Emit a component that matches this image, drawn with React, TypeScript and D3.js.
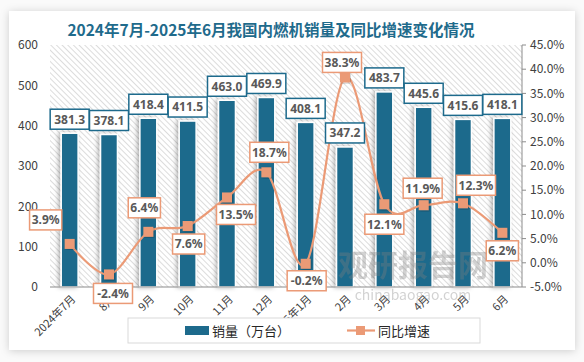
import React, { useEffect, useRef } from 'react';
import * as d3 from 'd3';

const months = ['2024年7月', '8月', '9月', '10月', '11月', '12月', '2025年1月', '2月', '3月', '4月', '5月', '6月'];
const sales = [381.3, 378.1, 418.4, 411.5, 463.0, 469.9, 408.1, 347.2, 483.7, 445.6, 415.6, 418.1];
const growth = [3.9, -2.4, 6.4, 7.6, 13.5, 18.7, -0.2, 38.3, 12.1, 11.9, 12.3, 6.2];
const leftTicks = [0, 100, 200, 300, 400, 500, 600];
const rightTicks = [-5, 0, 5, 10, 15, 20, 25, 30, 35, 40, 45];

// offsets for the growth-rate labels, relative to their markers
const growthLabelOffset: [number, number][] = [
  [-24, -24], [4, 19], [-4, -24], [1, 18], [9, 17], [3, -20],
  [1, 17], [-3, -15], [0, 20], [-1, -17], [13, -18], [0, 18],
];

const W = 584;
const H = 362;
const margin = { top: 45, right: 62, bottom: 75, left: 50 };
const barColor = '#1d6a8c';
const lineColor = '#eb9a76';

const App: React.FC = () => {
  const ref = useRef<SVGSVGElement>(null);

  useEffect(() => {
    if (!ref.current) return;
    const root = d3.select(ref.current);
    root.selectAll('*').remove();

    const width = W - margin.left - margin.right;
    const height = H - margin.top - margin.bottom;

    const defs = root.append('defs');
    const pat = defs.append('pattern')
      .attr('id', 'hatch')
      .attr('patternUnits', 'userSpaceOnUse')
      .attr('width', 4)
      .attr('height', 4)
      .attr('patternTransform', 'rotate(-45)');
    pat.append('rect').attr('width', 4).attr('height', 4).attr('fill', '#fff');
    pat.append('line')
      .attr('x1', 0).attr('y1', 0).attr('x2', 0).attr('y2', 4)
      .attr('stroke', '#d4d4d4').attr('stroke-width', 1.6);

    const cardShadow = defs.append('filter').attr('id', 'cardShadow')
      .attr('x', '-5%').attr('y', '-5%').attr('width', '110%').attr('height', '115%');
    cardShadow.append('feDropShadow')
      .attr('dx', 0).attr('dy', 1).attr('stdDeviation', 4)
      .attr('flood-color', '#000').attr('flood-opacity', 0.18);

    const barShadow = defs.append('filter').attr('id', 'barShadow')
      .attr('x', '-60%').attr('y', '-10%').attr('width', '220%').attr('height', '120%');
    barShadow.append('feDropShadow')
      .attr('dx', -2).attr('dy', 0).attr('stdDeviation', 2)
      .attr('flood-color', '#000').attr('flood-opacity', 0.3);

    const markerShadow = defs.append('filter').attr('id', 'mkShadow');
    markerShadow.append('feDropShadow')
      .attr('dx', 1).attr('dy', 1).attr('stdDeviation', 1)
      .attr('flood-color', '#000').attr('flood-opacity', 0.25);

    // page background + card
    root.append('rect').attr('width', W).attr('height', H).attr('fill', '#fafafa');
    root.append('rect')
      .attr('x', 9).attr('y', 11).attr('width', 566).attr('height', 339)
      .attr('fill', '#fff')
      .attr('filter', 'url(#cardShadow)');

    // title
    root.append('text')
      .attr('x', 271).attr('y', 36)
      .attr('text-anchor', 'middle')
      .attr('font-family', '"Noto Sans CJK SC", sans-serif')
      .attr('font-weight', 'bold')
      .attr('font-size', 15.5)
      .attr('fill', '#1f6b8c')
      .text('2024年7月-2025年6月我国内燃机销量及同比增速变化情况');

    const g = root.append('g').attr('transform', `translate(${margin.left},${margin.top})`);

    const x = d3.scaleBand<string>().domain(months).range([0, width]).paddingInner(0.57).paddingOuter(0.285);
    const yL = d3.scaleLinear().domain([0, 600]).range([height, 0]);
    const yR = d3.scaleLinear().domain([-5, 45]).range([height, 0]);

    g.append('rect').attr('width', width).attr('height', height).attr('fill', 'url(#hatch)');

    // bars
    g.selectAll('rect.bar')
      .data(sales)
      .join('rect')
      .attr('class', 'bar')
      .attr('x', (_, i) => x(months[i])!)
      .attr('y', d => yL(d))
      .attr('width', x.bandwidth())
      .attr('height', d => height - yL(d))
      .attr('fill', barColor)
      .attr('stroke', '#fff')
      .attr('stroke-width', 1.5)
      .attr('filter', 'url(#barShadow)');

    // axes
    const font = '"Noto Sans CJK SC", "Noto Sans", sans-serif';
    g.append('line')
      .attr('x1', 0).attr('x2', width).attr('y1', height).attr('y2', height)
      .attr('stroke', '#8c8c8c').attr('stroke-width', 1.2);
    g.append('line')
      .attr('x1', width).attr('x2', width).attr('y1', 0).attr('y2', height)
      .attr('stroke', '#8c8c8c').attr('stroke-width', 1);

    g.selectAll('text.yl')
      .data(leftTicks)
      .join('text')
      .attr('class', 'yl')
      .attr('x', -12)
      .attr('y', d => yL(d))
      .attr('dy', '0.35em')
      .attr('text-anchor', 'end')
      .attr('font-family', font)
      .attr('font-size', 12)
      .attr('fill', '#404040')
      .text(d => d);

    g.selectAll('line.rt')
      .data(rightTicks)
      .join('line')
      .attr('class', 'rt')
      .attr('x1', width).attr('x2', width + 4)
      .attr('y1', d => yR(d)).attr('y2', d => yR(d))
      .attr('stroke', '#8c8c8c');

    g.selectAll('text.yr')
      .data(rightTicks)
      .join('text')
      .attr('class', 'yr')
      .attr('x', width + 8)
      .attr('y', d => yR(d))
      .attr('dy', '0.35em')
      .attr('font-family', font)
      .attr('font-size', 12)
      .attr('fill', '#404040')
      .text(d => `${d.toFixed(1)}%`);

    g.selectAll('text.xl')
      .data(months)
      .join('text')
      .attr('class', 'xl')
      .attr('transform', d => `translate(${x(d)! + x.bandwidth() / 2 + 4},${height + 10}) rotate(-45)`)
      .attr('text-anchor', 'end')
      .attr('dy', '0.35em')
      .attr('font-family', font)
      .attr('font-size', 11)
      .attr('fill', '#404040')
      .text(d => d);

    // line
    const cx = (i: number) => x(months[i])! + x.bandwidth() / 2;
    const line = d3.line<number>()
      .x((_, i) => cx(i))
      .y(d => yR(d))
      .curve(d3.curveCatmullRom.alpha(0));

    g.append('path')
      .datum(growth)
      .attr('fill', 'none')
      .attr('stroke', lineColor)
      .attr('stroke-width', 2.2)
      .attr('d', line);

    g.selectAll('rect.mk')
      .data(growth)
      .join('rect')
      .attr('class', 'mk')
      .attr('x', (_, i) => cx(i) - 5)
      .attr('y', d => yR(d) - 5)
      .attr('width', 10)
      .attr('height', 10)
      .attr('fill', lineColor)
      .attr('filter', 'url(#mkShadow)');

    // label boxes
    const labelBox = (cxv: number, cyv: number, txt: string, border: string) => {
      const w = txt.length * 6.8 + 5;
      const lb = g.append('g').attr('transform', `translate(${cxv},${cyv})`);
      lb.append('rect')
        .attr('x', -w / 2).attr('y', -10)
        .attr('width', w).attr('height', 20)
        .attr('fill', '#fff')
        .attr('stroke', border)
        .attr('stroke-width', 1.5);
      lb.append('text')
        .attr('text-anchor', 'middle')
        .attr('dy', '0.36em')
        .attr('font-family', '"Noto Sans", "Open Sans", sans-serif')
        .attr('font-weight', 'bold')
        .attr('font-size', 12)
        .attr('fill', '#595959')
        .text(txt);
    };

    sales.forEach((d, i) => {
      labelBox(cx(i), yL(d) - 14, d.toFixed(1), barColor);
    });
    growth.forEach((d, i) => {
      const [dx, dy] = growthLabelOffset[i];
      labelBox(cx(i) + dx, yR(d) + dy, `${d.toFixed(1)}%`, lineColor);
    });

    // legend
    const lg = root.append('g').attr('transform', 'translate(128,318)');
    lg.append('rect')
      .attr('width', 352).attr('height', 25)
      .attr('fill', '#fff')
      .attr('stroke', '#d9d9d9');
    lg.append('rect').attr('x', 57).attr('y', 8).attr('width', 24).attr('height', 9).attr('fill', barColor);
    lg.append('text')
      .attr('x', 84).attr('y', 13).attr('dy', '0.36em')
      .attr('font-family', font).attr('font-size', 13).attr('fill', '#262626')
      .text('销量（万台）');
    lg.append('line')
      .attr('x1', 219).attr('x2', 247).attr('y1', 12.5).attr('y2', 12.5)
      .attr('stroke', lineColor).attr('stroke-width', 2.2);
    lg.append('rect').attr('x', 228).attr('y', 8).attr('width', 9).attr('height', 9).attr('fill', lineColor);
    lg.append('text')
      .attr('x', 250).attr('y', 13).attr('dy', '0.36em')
      .attr('font-family', font).attr('font-size', 13).attr('fill', '#262626')
      .text('同比增速');

    // watermark
    const wm = root.append('g').attr('opacity', 0.35);
    wm.append('text')
      .attr('x', 413).attr('y', 276)
      .attr('text-anchor', 'middle')
      .attr('font-family', font).attr('font-weight', 'bold').attr('font-size', 30)
      .attr('fill', '#7f7f7f')
      .text('观研报告网');
    wm.append('text')
      .attr('x', 413).attr('y', 300)
      .attr('text-anchor', 'middle')
      .attr('font-family', font).attr('font-size', 14)
      .attr('fill', '#7f7f7f')
      .text('chinabaogao.com');
  }, []);

  return (
    <svg ref={ref} width={W} height={H} style={{ position: 'absolute', left: 0, top: 0, display: 'block' }} />
  );
};

export default App;
